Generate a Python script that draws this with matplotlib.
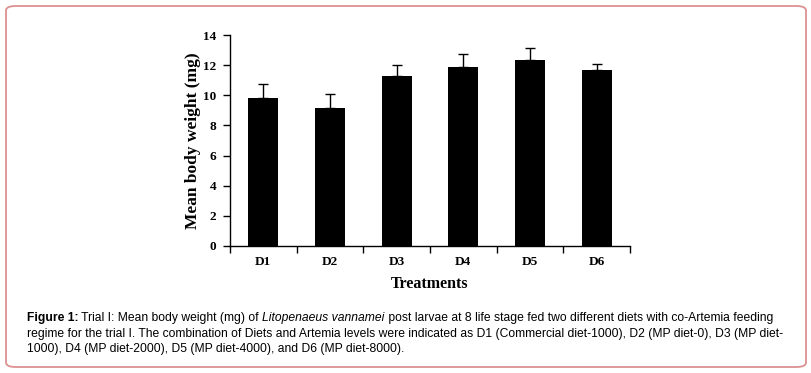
import numpy as np
import matplotlib
matplotlib.use("Agg")
import matplotlib.pyplot as plt
from matplotlib.patches import FancyBboxPatch

# data
treatments = ["D1", "D2", "D3", "D4", "D5", "D6"]
mean_weight = [9.80, 9.14, 11.27, 11.85, 12.33, 11.67]
err_upper = [0.93, 0.93, 0.71, 0.92, 0.83, 0.40]

serif = ["Liberation Serif", "DejaVu Serif"]
sans = ["Liberation Sans", "DejaVu Sans"]

fig = plt.figure(figsize=(8.11, 3.73), dpi=100)

# rounded frame around the whole figure
frame = FancyBboxPatch((6 / 811, 6 / 373), 800 / 811, 361 / 373,
                       boxstyle="round,pad=0,rounding_size=0.012",
                       transform=fig.transFigure, fill=False,
                       edgecolor="#dc9090", linewidth=1.3)
fig.patches.append(frame)

ax = fig.add_axes([230 / 811, 1 - 246 / 373, 400 / 811, (246 - 35) / 373])

x = np.arange(len(treatments)) + 0.5
ax.bar(x, mean_weight, width=0.45, color="black", zorder=2)
ax.errorbar(x, mean_weight, yerr=[np.zeros(len(err_upper)), err_upper],
            fmt="none", ecolor="black", elinewidth=1, capsize=3.5, capthick=1, zorder=1)

ax.set_xlim(0, 6)
ax.set_ylim(0, 14)
ax.set_yticks(range(0, 15, 2))
# ticks sit between the bars, labels under the bars
ax.set_xticks(range(0, 7))
ax.set_xticklabels([])
ax.set_xticks(x, minor=True)
ax.set_xticklabels(treatments, minor=True)
ax.tick_params(axis="x", which="minor", length=0, pad=7)
ax.tick_params(axis="x", which="major", length=5, direction="out", width=1)
ax.tick_params(axis="y", length=5, direction="out", width=1, pad=5)

for lab in ax.get_xticklabels(minor=True) + ax.get_yticklabels():
    lab.set_fontfamily(serif)
    lab.set_fontweight("bold")
    lab.set_fontsize(9.5)

for s in ["top", "right"]:
    ax.spines[s].set_visible(False)
for s in ["left", "bottom"]:
    ax.spines[s].set_linewidth(1)

ax.set_ylabel("Mean body weight (mg)", fontfamily=serif, fontweight="bold",
              fontsize=12.5, labelpad=1)
ax.set_xlabel("Treatments", fontfamily=serif, fontweight="bold",
              fontsize=11.5, labelpad=6)

# caption: first line has bold / italic pieces chained one after another
fs = 8.7
left = 27 / 811
first_line = [
    ("Figure 1:", "bold", "normal"),
    (" Trial I: Mean body weight (mg) of ", "normal", "normal"),
    ("Litopenaeus vannamei", "normal", "italic"),
    (" post larvae at 8 life stage fed two different diets with co-Artemia feeding", "normal", "normal"),
]
last = None
for s, w, st in first_line:
    if last is None:
        last = fig.text(left, 1 - 321 / 373, s, fontfamily=sans, fontweight=w,
                        style=st, fontsize=fs)
    else:
        last = ax.annotate(s, xy=(1, 0), xycoords=last, va="bottom", ha="left",
                           fontfamily=sans, fontweight=w, style=st, fontsize=fs,
                           annotation_clip=False)

other_lines = [
    "regime for the trial I. The combination of Diets and Artemia levels were indicated as D1 (Commercial diet-1000), D2 (MP diet-0), D3 (MP diet-",
    "1000), D4 (MP diet-2000), D5 (MP diet-4000), and D6 (MP diet-8000).",
]
for i, s in enumerate(other_lines):
    fig.text(left, 1 - (336.5 + 15.5 * i) / 373, s, fontfamily=sans, fontsize=fs)

fig.savefig("out.png", dpi=100)
